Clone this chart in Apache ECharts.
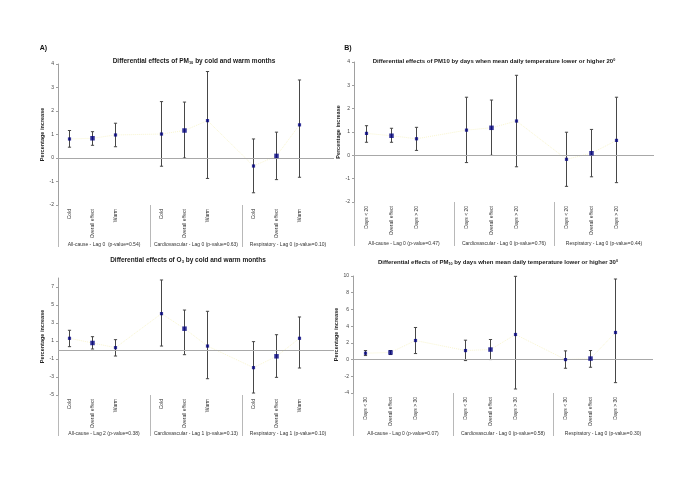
<!DOCTYPE html>
<html><head><meta charset="utf-8">
<script src="https://cdn.jsdelivr.net/npm/echarts@6/dist/echarts.min.js"></script>
<style>html,body{margin:0;padding:0;background:#fff}#c{width:685px;height:484px}</style>
</head><body><div id="c"></div>
<script>
// ---- Data ----
const catsA = ['Cold','Overall effect','Warm','','Cold','Overall effect','Warm','','Cold','Overall effect','Warm',''];
const groupsA = ['All-cause - Lag 0  (p-value=0.54)','Cardiovascular - Lag 0 (p-value=0.63)','Respiratory - Lag 0 (p-value=0.10)'];
const estA  = [0.81, 0.84, 0.98, null, 1.02, 1.17, 1.59, null, -0.34, 0.09, 1.41, null];
const lowA  = [0.46, 0.54, 0.48, null, -0.35, 0.00, -0.87, null, -1.48, -0.92, -0.82, null];
const highA = [1.17, 1.12, 1.48, null, 2.40, 2.38, 3.68, null, 0.81, 1.10, 3.32, null];

const catsB = ['Days < 20','Overall effect','Days > 20','','Days < 20','Overall effect','Days > 20','','Days < 20','Overall effect','Days > 20',''];
const groupsB = ['All-cause - Lag 0 (p-value=0.47)','Cardiovascular - Lag 0 (p-value=0.76)','Respiratory - Lag 0 (p-value=0.44)'];
const estB  = [0.94, 0.84, 0.71, null, 1.08, 1.18, 1.47, null, -0.17, 0.09, 0.64, null];
const lowB  = [0.56, 0.56, 0.21, null, -0.31, 0.00, -0.49, null, -1.33, -0.92, -1.17, null];
const highB = [1.27, 1.16, 1.20, null, 2.49, 2.37, 3.43, null, 0.99, 1.11, 2.49, null];

const catsC = ['Cold','Overall effect','Warm','','Cold','Overall effect','Warm','','Cold','Overall effect','Warm',''];
const groupsC = ['All-cause - Lag 2 (p-value=0.38)','Cardiovascular - Lag 1 (p-value=0.13)','Respiratory - Lag 1 (p-value=0.10)'];
const estC  = [1.30, 0.78, 0.26, null, 4.04, 2.37, 0.44, null, -1.96, -0.70, 1.30, null];
const lowC  = [0.37, 0.11, -0.67, null, 0.44, -0.52, -3.19, null, -4.78, -3.04, -2.00, null];
const highC = [2.19, 1.48, 1.15, null, 7.78, 4.44, 4.30, null, 0.93, 1.70, 3.67, null];

const catsD = ['Days < 30','Overall effect','Days > 30','','Days < 30','Overall effect','Days > 30','','Days < 30','Overall effect','Days > 30',''];
const groupsD = ['All-cause - Lag 0 (p-value=0.07)','Cardiovascular - Lag 0 (p-value=0.58)','Respiratory - Lag 0 (p-value=0.30)'];
const estD  = [0.76, 0.85, 2.28, null, 1.08, 1.20, 3.00, null, 0.00, 0.12, 3.24, null];
const lowD  = [0.48, 0.60, 0.72, null, -0.12, 0.00, -3.52, null, -1.04, -0.92, -2.76, null];
const highD = [1.08, 1.08, 3.84, null, 2.32, 2.40, 9.96, null, 1.04, 1.08, 9.64, null];

const yTicksA = {min: -2, max: 4, step: 1};
const yTicksB = {min: -2, max: 4, step: 1};
const yTicksC = {min: -5, max: 8, step: 2};
const yTicksD = {min: -4, max: 10, step: 2};

// ---- Layout / style ----
const F = 'Liberation Sans, Arial, sans-serif';
const panels = [
  {cats: catsA, groups: groupsA, est: estA, low: lowA, high: highA, y: yTicksA, left: 58, top: 64, width: 276, height: 141, labH: 42, nameGap: 9.5},
  {cats: catsB, groups: groupsB, est: estB, low: lowB, high: highB, y: yTicksB, left: 354, top: 62, width: 300, height: 140, labH: 44, nameGap: 12},
  {cats: catsC, groups: groupsC, est: estC, low: lowC, high: highC, y: yTicksC, left: 58, top: 278, width: 276, height: 117, labH: 41, nameGap: 9.5},
  {cats: catsD, groups: groupsD, est: estD, low: lowD, high: highD, y: yTicksD, left: 353, top: 276, width: 300, height: 117, labH: 43, nameGap: 12.5}
];

const grid = [], xAxis = [], yAxis = [], series = [];
panels.forEach((p, i) => {
  const gi = 2 * i, li = 2 * i + 1;
  grid.push({left: p.left, top: p.top, width: p.width, height: p.height});
  grid.push({left: p.left, top: p.top + p.height, width: p.width, height: p.labH});
  xAxis.push({
    type: 'category', gridIndex: gi, data: p.cats, boundaryGap: true,
    axisLine: {show: false, onZero: false}, axisTick: {show: false},
    axisLabel: {interval: 0, rotate: 90, fontSize: 5, fontFamily: F, color: '#333', margin: 4},
    splitLine: {show: false}
  });
  xAxis.push({
    type: 'category', gridIndex: li, data: p.groups, boundaryGap: true,
    axisLine: {show: false, onZero: false}, axisTick: {show: false},
    axisLabel: {interval: 0, inside: true, margin: 0, fontSize: 5, fontFamily: F, color: '#333'},
    splitLine: {show: true, showMinLine: true, showMaxLine: false, lineStyle: {color: '#b8b8b8', width: 1}}
  });
  yAxis.push({
    type: 'value', gridIndex: gi, min: p.y.min, max: p.y.max, interval: p.y.step,
    name: 'Percentage increase', nameLocation: 'middle', nameGap: p.nameGap,
    nameTextStyle: {fontSize: 5.5, fontWeight: 'bold', fontFamily: F, color: '#222'},
    axisLine: {show: true, lineStyle: {color: '#a0a0a0', width: 1}},
    axisTick: {show: true, length: 2, lineStyle: {color: '#a0a0a0'}},
    axisLabel: {fontSize: 5, fontFamily: F, color: '#444', margin: 4, showMaxLabel: (p.y.max - p.y.min) % p.y.step === 0},
    splitLine: {show: false}
  });
  yAxis.push({type: 'value', gridIndex: li, min: 0, max: 1, show: false});

  const bars = [];
  p.est.forEach((v, k) => { if (v != null) bars.push([k, p.low[k], p.high[k]]); });
  series.push({
    type: 'custom', xAxisIndex: gi, yAxisIndex: gi, data: bars, z: 3, silent: true,
    encode: {x: 0, y: [1, 2]},
    renderItem: (params, api) => {
      const x = api.value(0);
      const a = api.coord([x, api.value(2)]);
      const b = api.coord([x, api.value(1)]);
      const w = 1.6;
      const st = {stroke: '#474747', lineWidth: 1};
      return {type: 'group', children: [
        {type: 'line', shape: {x1: a[0], y1: a[1], x2: b[0], y2: b[1]}, style: st},
        {type: 'line', shape: {x1: a[0] - w, y1: a[1], x2: a[0] + w, y2: a[1]}, style: st},
        {type: 'line', shape: {x1: b[0] - w, y1: b[1], x2: b[0] + w, y2: b[1]}, style: st}
      ]};
    }
  });
  series.push({
    type: 'line', xAxisIndex: gi, yAxisIndex: gi, data: p.est, connectNulls: true,
    symbol: 'none', silent: true, z: 1,
    lineStyle: {color: '#f3eeb0', width: 1, type: 'dotted', opacity: 0.6}
  });
  const pts = [];
  p.est.forEach((v, k) => { if (v != null) pts.push([k, v]); });
  series.push({
    type: 'scatter', xAxisIndex: gi, yAxisIndex: gi, data: pts, z: 5, silent: true,
    symbol: 'rect',
    symbolSize: (val) => (p.cats[val[0]].indexOf('Overall') === 0 ? 4.5 : 3.2),
    itemStyle: {color: '#000080'},
    markLine: {
      silent: true, symbol: ['none', 'none'], label: {show: false}, animation: false,
      lineStyle: {color: '#a8a8a8', width: 1, type: 'solid'},
      data: [{yAxis: 0}]
    }
  });
});

const tStyle = (size) => ({
  b: {fontSize: size, fontWeight: 'bold', fontFamily: F, fill: '#1a1a1a'},
  s: {fontSize: size * 0.62, fontWeight: 'bold', fontFamily: F, fill: '#1a1a1a', verticalAlign: 'bottom', padding: [3, 0, 0, 0]},
  u: {fontSize: size * 0.62, fontWeight: 'bold', fontFamily: F, fill: '#1a1a1a', verticalAlign: 'top', padding: [0, 0, 3, 0]}
});
const graphic = [
  {type: 'text', x: 43.5, y: 48.5, style: {text: 'A)', font: 'bold 7px ' + F, fill: '#111', align: 'center', verticalAlign: 'middle'}},
  {type: 'text', x: 348, y: 48.5, style: {text: 'B)', font: 'bold 7px ' + F, fill: '#111', align: 'center', verticalAlign: 'middle'}},
  {type: 'text', x: 194, y: 61, style: {text: '{b|Differential effects of PM}{s|10}{b| by cold and warm months}', rich: tStyle(6.5), align: 'center', verticalAlign: 'middle'}},
  {type: 'text', x: 494, y: 61, style: {text: '{b|Differential effects of PM10 by days when mean daily temperature lower or higher 20}{u|0}', rich: tStyle(6), align: 'center', verticalAlign: 'middle'}},
  {type: 'text', x: 188, y: 260, style: {text: '{b|Differential effects of O}{s|3}{b| by cold and warm months}', rich: tStyle(6.5), align: 'center', verticalAlign: 'middle'}},
  {type: 'text', x: 498, y: 262, style: {text: '{b|Differential effects of PM}{s|10}{b| by days when mean daily temperature lower or higher 30}{u|0}', rich: tStyle(6), align: 'center', verticalAlign: 'middle'}}
];

const chart = echarts.init(document.getElementById('c'), null, {renderer: 'canvas'});
chart.setOption({animation: false, backgroundColor: '#fff', grid, xAxis, yAxis, series, graphic});
</script>
</body></html>
